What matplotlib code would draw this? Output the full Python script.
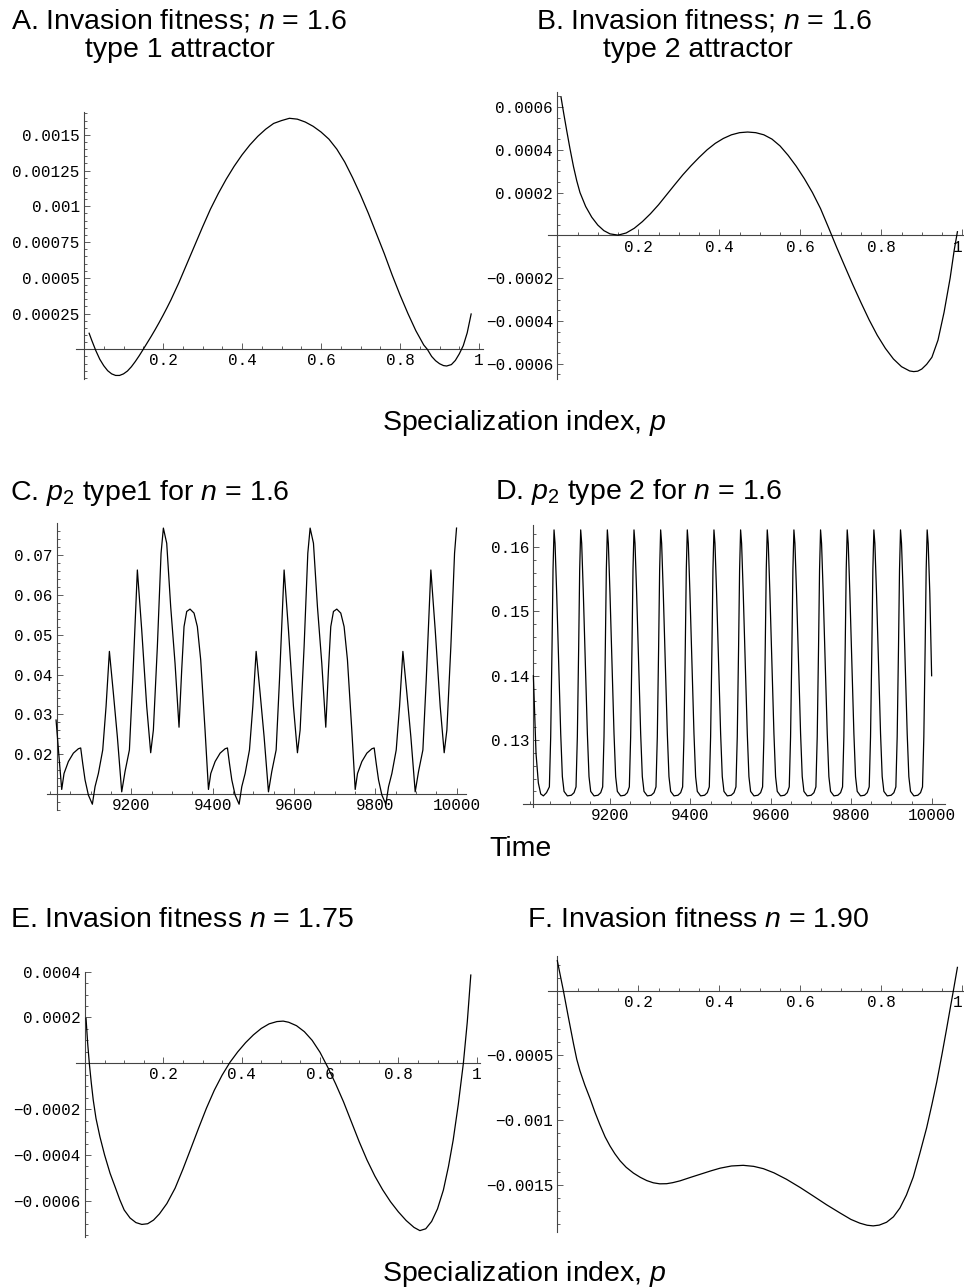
"""
plot.py
Six Mathematica-style panels: invasion fitness vs specialization index (A, B, E, F)
and p2 time series for the two attractors (C, D). Saves out.png (964x1287).
"""

import numpy as np
import matplotlib
matplotlib.use("Agg")
import matplotlib.pyplot as plt
from matplotlib.ticker import MultipleLocator

W, H = 964, 1287

plt.rcParams["font.family"] = ["Liberation Sans", "DejaVu Sans"]
plt.rcParams["mathtext.fontset"] = "custom"
plt.rcParams["mathtext.rm"] = "Liberation Sans"
plt.rcParams["mathtext.it"] = "Liberation Sans:italic"

# ── A. invasion fitness, n = 1.6, type 1 attractor ──────────────────────────
A_p = [0.013, 0.02, 0.03, 0.04, 0.05, 0.06, 0.07, 0.08, 0.09, 0.10,
       0.11, 0.12, 0.13, 0.14, 0.15, 0.16, 0.17, 0.18, 0.19, 0.20, 0.21, 0.22,
       0.24, 0.26, 0.28, 0.30, 0.32, 0.34, 0.36, 0.38, 0.40, 0.42,
       0.44, 0.46, 0.48, 0.50, 0.52, 0.54, 0.56, 0.58, 0.60,
       0.62, 0.64, 0.66, 0.68, 0.70, 0.72, 0.74, 0.76, 0.78, 0.80, 0.82, 0.84,
       0.86, 0.869, 0.88, 0.89, 0.90, 0.91, 0.918, 0.93, 0.94, 0.95, 0.96,
       0.97, 0.98]
A_w = [0.000112, 0.00006, -0.00001, -0.00007, -0.000115, -0.00015, -0.000172,
       -0.000183, -0.000183, -0.000172,
       -0.000152, -0.000122, -0.000085, -0.000044, 0.0, 0.000045, 0.00009,
       0.000137, 0.000186, 0.000237, 0.00029, 0.000345,
       0.000465, 0.000595, 0.000725, 0.000855, 0.00098, 0.00109, 0.00119,
       0.00128, 0.00136, 0.00143,
       0.00149, 0.00154, 0.00158, 0.00160, 0.001616, 0.00161, 0.00159, 0.00156,
       0.00152,
       0.00147, 0.00140, 0.00131, 0.00120, 0.00108, 0.00095, 0.00081, 0.00067,
       0.00052, 0.00038, 0.00025, 0.00013,
       0.00003, 0.0, -0.00005, -0.00008, -0.000101, -0.000114, -0.000117,
       -0.000107, -0.000078, -0.000032, 0.000025, 0.000115, 0.000247]

# ── B. invasion fitness, n = 1.6, type 2 attractor ──────────────────────────
B_p = [0.009, 0.016, 0.023, 0.031, 0.04, 0.048, 0.056, 0.07, 0.085, 0.10,
       0.115, 0.13,
       0.15, 0.17, 0.19, 0.21, 0.23, 0.25, 0.27, 0.29, 0.31, 0.33, 0.35, 0.37,
       0.39, 0.41, 0.43, 0.45, 0.47, 0.49, 0.51, 0.53, 0.55, 0.57, 0.59, 0.61,
       0.63, 0.65, 0.67, 0.69, 0.71, 0.73, 0.75, 0.77, 0.79, 0.81, 0.83, 0.85,
       0.87,
       0.88, 0.89, 0.90, 0.912, 0.925, 0.94, 0.955, 0.97, 0.98, 0.988]
B_w = [0.000648, 0.000568, 0.000492, 0.000408, 0.000321, 0.000255, 0.0002,
       0.000135, 0.000085, 0.000048, 0.000022, 0.000007,
       0.000001, 0.000011, 0.000033, 0.000064, 0.000101, 0.000143, 0.00019,
       0.000237, 0.000283, 0.000325, 0.000364, 0.0004, 0.00043, 0.000453,
       0.00047, 0.00048, 0.000483, 0.00048, 0.00047, 0.00045, 0.000418,
       0.000374, 0.000323, 0.000265, 0.0002, 0.000125, 0.000035, -0.000057,
       -0.000145, -0.000232, -0.000315, -0.000395, -0.000467, -0.000528,
       -0.000578, -0.000614, -0.000634,
       -0.000637, -0.000635, -0.000625, -0.000603, -0.00057, -0.00049,
       -0.00036, -0.0002, -0.00007, 0.000017]

# ── C. p2 time series, type 1 attractor ─────────────────────────────────────
C_t = [9014.8, 9021.3,
       9028.7, 9034.4, 9045.1, 9057.4, 9069.7, 9075.4, 9080.4, 9086.1, 9094.3,
       9104.1, 9110.7, 9118.9, 9129.6, 9137.8, 9146.0, 9155.8, 9165.6, 9176.3,
       9184.5, 9195.2, 9203.4, 9214.8, 9225.5, 9237.8, 9247.6, 9254.2, 9264.0,
       9273.1, 9278.8, 9287.0, 9296.8, 9307.5, 9317.3, 9323.9, 9329.6, 9336.2,
       9344.4, 9354.2, 9362.4, 9370.6, 9381.3,
       9389.7, 9395.4, 9406.1, 9418.4, 9430.7, 9436.4, 9441.4, 9447.1, 9455.3,
       9465.1, 9471.7, 9479.9, 9490.6, 9498.8, 9507.0, 9516.8, 9526.6, 9537.3,
       9545.5, 9556.2, 9564.4, 9575.8, 9586.5, 9598.8, 9608.6, 9615.2, 9625.0,
       9634.1, 9639.8, 9648.0, 9657.8, 9668.5, 9678.3, 9684.9, 9690.6, 9697.2,
       9705.4, 9715.2, 9723.4, 9731.6, 9742.3,
       9750.7, 9756.4, 9767.1, 9779.4, 9791.7, 9797.4, 9802.4, 9808.1, 9816.3,
       9826.1, 9832.7, 9840.9, 9851.6, 9859.8, 9868.0, 9877.8, 9887.6, 9898.3,
       9906.5, 9917.2, 9925.4, 9936.8, 9947.5, 9959.8, 9969.6, 9976.2, 9986.0,
       9995.1, 10000.0]
C_p2 = [0.0286, 0.0203,
        0.0112, 0.0152, 0.0182, 0.0203, 0.0214, 0.0216, 0.0177, 0.0136, 0.0098,
        0.0075, 0.0119, 0.0152, 0.0211, 0.0320, 0.0458, 0.0353, 0.0244, 0.0106,
        0.0157, 0.0211, 0.0386, 0.0662, 0.0512, 0.0320, 0.0204, 0.0261, 0.0470,
        0.0704, 0.0767, 0.0729, 0.0570, 0.0428, 0.0268, 0.0412, 0.0520, 0.0558,
        0.0564, 0.0554, 0.0520, 0.0437, 0.0261,
        0.0112, 0.0152, 0.0182, 0.0203, 0.0214, 0.0216, 0.0177, 0.0136, 0.0098,
        0.0075, 0.0119, 0.0152, 0.0211, 0.0320, 0.0458, 0.0353, 0.0244, 0.0106,
        0.0157, 0.0211, 0.0386, 0.0662, 0.0512, 0.0320, 0.0204, 0.0261, 0.0470,
        0.0704, 0.0767, 0.0729, 0.0570, 0.0428, 0.0268, 0.0412, 0.0520, 0.0558,
        0.0564, 0.0554, 0.0520, 0.0437, 0.0261,
        0.0112, 0.0152, 0.0182, 0.0203, 0.0214, 0.0216, 0.0177, 0.0136, 0.0098,
        0.0075, 0.0119, 0.0152, 0.0211, 0.0320, 0.0458, 0.0353, 0.0244, 0.0106,
        0.0157, 0.0211, 0.0386, 0.0662, 0.0512, 0.0320, 0.0204, 0.0261, 0.0470,
        0.0704, 0.0767]

# ── D. p2 time series, type 2 attractor (one row per oscillation) ──────────
D_t_rows = [
    [9009.3, 9015.9, 9021.7, 9027.6, 9034.2, 9042.0],
    [9049.1, 9052.4, 9055.7, 9058.2, 9060.7, 9063.2, 9067.3, 9072.3, 9077.3, 9081.4, 9085.6, 9093.9, 9103.8, 9110.5],
    [9115.4, 9118.7, 9122.0, 9124.5, 9127.0, 9129.5, 9133.6, 9138.6, 9143.6, 9147.7, 9151.9, 9160.2, 9170.1, 9176.8],
    [9181.7, 9185.0, 9188.3, 9190.8, 9193.3, 9195.8, 9199.9, 9204.9, 9209.9, 9214.0, 9218.2, 9226.5, 9236.4, 9243.1],
    [9248.0, 9251.3, 9254.6, 9257.1, 9259.6, 9262.1, 9266.2, 9271.2, 9276.2, 9280.3, 9284.5, 9292.8, 9302.7, 9309.4],
    [9314.3, 9317.6, 9320.9, 9323.4, 9325.9, 9328.4, 9332.5, 9337.5, 9342.5, 9346.6, 9350.8, 9359.1, 9369.0, 9375.7],
    [9380.6, 9383.9, 9387.2, 9389.7, 9392.2, 9394.7, 9398.8, 9403.8, 9408.8, 9412.9, 9417.1, 9425.4, 9435.3, 9442.0],
    [9446.9, 9450.2, 9453.5, 9456.0, 9458.5, 9461.0, 9465.1, 9470.1, 9475.1, 9479.2, 9483.4, 9491.7, 9501.6, 9508.3],
    [9513.2, 9516.5, 9519.8, 9522.3, 9524.8, 9527.3, 9531.4, 9536.4, 9541.4, 9545.5, 9549.7, 9558.0, 9567.9, 9574.6],
    [9579.5, 9582.8, 9586.1, 9588.6, 9591.1, 9593.6, 9597.7, 9602.7, 9607.7, 9611.8, 9616.0, 9624.3, 9634.2, 9640.9],
    [9645.8, 9649.1, 9652.4, 9654.9, 9657.4, 9659.9, 9664.0, 9669.0, 9674.0, 9678.1, 9682.3, 9690.6, 9700.5, 9707.2],
    [9712.1, 9715.4, 9718.7, 9721.2, 9723.7, 9726.2, 9730.3, 9735.3, 9740.3, 9744.4, 9748.6, 9756.9, 9766.8, 9773.5],
    [9778.4, 9781.7, 9785.0, 9787.5, 9790.0, 9792.5, 9796.6, 9801.6, 9806.6, 9810.7, 9814.9, 9823.2, 9833.1, 9839.8],
    [9844.7, 9848.0, 9851.3, 9853.8, 9856.3, 9858.8, 9862.9, 9867.9, 9872.9, 9877.0, 9881.2, 9889.5, 9899.4, 9906.1],
    [9911.0, 9914.3, 9917.6, 9920.1, 9922.6, 9925.1, 9929.2, 9934.2, 9939.2, 9943.3, 9947.5, 9955.8, 9965.7, 9972.4],
    [9977.3, 9980.6, 9983.9, 9986.4, 9988.9, 9991.4, 9995.5, 10000.0],
]
D_p2_rows = [
    [0.1400, 0.1279, 0.1233, 0.1216, 0.1213, 0.1218],
    [0.1227, 0.1305, 0.1445, 0.1565, 0.1627, 0.1606, 0.1528, 0.1419, 0.1310, 0.1243, 0.1220, 0.1213, 0.1214, 0.1218],
    [0.1227, 0.1305, 0.1445, 0.1565, 0.1627, 0.1606, 0.1528, 0.1419, 0.1310, 0.1243, 0.1220, 0.1213, 0.1214, 0.1218],
    [0.1227, 0.1305, 0.1445, 0.1565, 0.1627, 0.1606, 0.1528, 0.1419, 0.1310, 0.1243, 0.1220, 0.1213, 0.1214, 0.1218],
    [0.1227, 0.1305, 0.1445, 0.1565, 0.1627, 0.1606, 0.1528, 0.1419, 0.1310, 0.1243, 0.1220, 0.1213, 0.1214, 0.1218],
    [0.1227, 0.1305, 0.1445, 0.1565, 0.1627, 0.1606, 0.1528, 0.1419, 0.1310, 0.1243, 0.1220, 0.1213, 0.1214, 0.1218],
    [0.1227, 0.1305, 0.1445, 0.1565, 0.1627, 0.1606, 0.1528, 0.1419, 0.1310, 0.1243, 0.1220, 0.1213, 0.1214, 0.1218],
    [0.1227, 0.1305, 0.1445, 0.1565, 0.1627, 0.1606, 0.1528, 0.1419, 0.1310, 0.1243, 0.1220, 0.1213, 0.1214, 0.1218],
    [0.1227, 0.1305, 0.1445, 0.1565, 0.1627, 0.1606, 0.1528, 0.1419, 0.1310, 0.1243, 0.1220, 0.1213, 0.1214, 0.1218],
    [0.1227, 0.1305, 0.1445, 0.1565, 0.1627, 0.1606, 0.1528, 0.1419, 0.1310, 0.1243, 0.1220, 0.1213, 0.1214, 0.1218],
    [0.1227, 0.1305, 0.1445, 0.1565, 0.1627, 0.1606, 0.1528, 0.1419, 0.1310, 0.1243, 0.1220, 0.1213, 0.1214, 0.1218],
    [0.1227, 0.1305, 0.1445, 0.1565, 0.1627, 0.1606, 0.1528, 0.1419, 0.1310, 0.1243, 0.1220, 0.1213, 0.1214, 0.1218],
    [0.1227, 0.1305, 0.1445, 0.1565, 0.1627, 0.1606, 0.1528, 0.1419, 0.1310, 0.1243, 0.1220, 0.1213, 0.1214, 0.1218],
    [0.1227, 0.1305, 0.1445, 0.1565, 0.1627, 0.1606, 0.1528, 0.1419, 0.1310, 0.1243, 0.1220, 0.1213, 0.1214, 0.1218],
    [0.1227, 0.1305, 0.1445, 0.1565, 0.1627, 0.1606, 0.1528, 0.1419, 0.1310, 0.1243, 0.1220, 0.1213, 0.1214, 0.1218],
    [0.1227, 0.1305, 0.1445, 0.1565, 0.1627, 0.1606, 0.1528, 0.1400],
]
D_t = np.concatenate(D_t_rows)
D_p2 = np.concatenate(D_p2_rows)

# ── E. invasion fitness, n = 1.75 ───────────────────────────────────────────
E_p = [0.0026, 0.0068, 0.011, 0.016, 0.021, 0.028, 0.038, 0.05, 0.064, 0.077,
       0.089, 0.10, 0.115, 0.13, 0.145, 0.16, 0.175, 0.19, 0.209, 0.23,
       0.25, 0.27, 0.29, 0.31, 0.33, 0.35, 0.37, 0.39, 0.41, 0.43,
       0.45, 0.47, 0.49, 0.506, 0.52, 0.54, 0.56, 0.58, 0.60, 0.62,
       0.64, 0.66, 0.68, 0.70, 0.72, 0.74, 0.76, 0.78, 0.80, 0.82,
       0.84, 0.855, 0.87, 0.885, 0.90, 0.915, 0.928, 0.94, 0.953, 0.966,
       0.976, 0.985]
E_w = [0.000196, 0.000087, 0.0, -0.000085, -0.00016, -0.00024, -0.00032,
       -0.0004, -0.00048, -0.00054,
       -0.000596, -0.00064, -0.000675, -0.000695, -0.000703, -0.0007,
       -0.000684, -0.000657, -0.000612, -0.000545,
       -0.000462, -0.000373, -0.000283, -0.000196, -0.000118, -0.000052,
       0.000004, 0.00005, 0.00009, 0.000124,
       0.000152, 0.000172, 0.000182, 0.000184, 0.000179, 0.000164, 0.000138,
       0.0001, 0.000048, -0.000018,
       -0.00009, -0.000168, -0.000255, -0.000342, -0.000422, -0.000492,
       -0.000552, -0.000604, -0.000648, -0.000686,
       -0.000716, -0.00073, -0.000722, -0.00069, -0.000635, -0.000553,
       -0.00045, -0.000335, -0.00018, 0.0,
       0.00018, 0.000385]

# ── F. invasion fitness, n = 1.90 ───────────────────────────────────────────
F_p = [0.0, 0.008, 0.015, 0.027, 0.04, 0.048, 0.056, 0.068, 0.081, 0.093,
       0.105, 0.118, 0.13, 0.142, 0.155, 0.17, 0.188, 0.205, 0.221, 0.237,
       0.253, 0.27, 0.285, 0.303, 0.33, 0.352, 0.38, 0.402, 0.43, 0.459,
       0.485, 0.509, 0.535, 0.566, 0.60, 0.632, 0.665, 0.698, 0.725, 0.747,
       0.765, 0.78, 0.795, 0.813, 0.83, 0.846, 0.862, 0.879, 0.895, 0.912,
       0.925, 0.937, 0.95, 0.961, 0.97, 0.978, 0.988]
F_w = [0.000232, 0.000108, 0.0, -0.0002, -0.00041, -0.00053, -0.00062,
       -0.00073, -0.000835, -0.00094,
       -0.001035, -0.00113, -0.0012, -0.00126, -0.001315, -0.001365, -0.00141,
       -0.001443, -0.001468, -0.001485,
       -0.001493, -0.001492, -0.001484, -0.00147, -0.001442, -0.00142,
       -0.001392, -0.001372, -0.001355, -0.00135,
       -0.001358, -0.001376, -0.001408, -0.001458, -0.001522, -0.001587,
       -0.001655, -0.001718, -0.001768, -0.001797,
       -0.001813, -0.001818, -0.001812, -0.00179, -0.001748, -0.00168,
       -0.00158, -0.00144, -0.00126, -0.00106,
       -0.00088, -0.000705, -0.00049, -0.0003, -0.00014, 0.0, 0.00018]

# ── tick values / labels (Mathematica style, no label at the origin) ────────
P_TICKS = [0.2, 0.4, 0.6, 0.8, 1.0]
P_LABELS = ["0.2", "0.4", "0.6", "0.8", "1"]
T_TICKS = [9200, 9400, 9600, 9800, 10000]
T_LABELS = ["9200", "9400", "9600", "9800", "10000"]

A_yticks = [0.00025, 0.0005, 0.00075, 0.001, 0.00125, 0.0015]
A_ylabels = ["0.00025", "0.0005", "0.00075", "0.001", "0.00125", "0.0015"]
B_yticks = [-0.0006, -0.0004, -0.0002, 0.0002, 0.0004, 0.0006]
B_ylabels = ["\u22120.0006", "\u22120.0004", "\u22120.0002", "0.0002", "0.0004", "0.0006"]
C_yticks = [0.02, 0.03, 0.04, 0.05, 0.06, 0.07]
C_ylabels = ["0.02", "0.03", "0.04", "0.05", "0.06", "0.07"]
D_yticks = [0.13, 0.14, 0.15, 0.16]
D_ylabels = ["0.13", "0.14", "0.15", "0.16"]
E_yticks = [-0.0006, -0.0004, -0.0002, 0.0002, 0.0004]
E_ylabels = ["\u22120.0006", "\u22120.0004", "\u22120.0002", "0.0002", "0.0004"]
F_yticks = [-0.0015, -0.001, -0.0005]
F_ylabels = ["\u22120.0015", "\u22120.001", "\u22120.0005"]

TITLE_SIZE = 20.5
TICK_FONT = "Liberation Mono"
TICK_SIZE = 11.5
AXIS_COLOR = "#444444"


def px_box(left, top, right, bottom):
    """Pixel rectangle (from top-left) -> figure fraction [l, b, w, h]."""
    return [left / W, 1 - bottom / H, (right - left) / W, (bottom - top) / H]


def panel(fig, box, x, y, xlim, ylim, origin, xticks, xlabels,
          yticks, ylabels, xminor, yminor, pull_last=False):
    ax = fig.add_axes(px_box(*box))
    ax.patch.set_visible(False)
    ax.plot(x, y, color="black", lw=0.9, clip_on=False, zorder=3)
    ax.set_xlim(*xlim)
    ax.set_ylim(*ylim)

    for s in ("top", "right"):
        ax.spines[s].set_visible(False)
    ax.spines["left"].set_position(("data", origin[0]))
    ax.spines["bottom"].set_position(("data", origin[1]))
    for s in ("left", "bottom"):
        ax.spines[s].set_linewidth(0.8)
        ax.spines[s].set_color(AXIS_COLOR)

    ax.set_xticks(xticks, xlabels)
    ax.set_yticks(yticks, ylabels)
    ax.xaxis.set_minor_locator(MultipleLocator(xminor))
    ax.yaxis.set_minor_locator(MultipleLocator(yminor))
    ax.tick_params(which="both", direction="in", color=AXIS_COLOR, width=0.6,
                   labelsize=TICK_SIZE, labelcolor="black")
    ax.tick_params(which="major", length=4)
    ax.tick_params(which="minor", length=2)
    ax.tick_params(axis="x", pad=3)
    ax.tick_params(axis="y", pad=3)
    for lab in ax.get_xticklabels() + ax.get_yticklabels():
        lab.set_fontfamily(TICK_FONT)
    if pull_last:                       # "1" sits on the figure edge
        ax.get_xticklabels()[-1].set_horizontalalignment("right")
    return ax


def text(fig, x, y, s, ha="left", size=TITLE_SIZE):
    fig.text(x / W, 1 - y / H, s, ha=ha, va="baseline", fontsize=size)


def main():
    fig = plt.figure(figsize=(W / 100, H / 100), dpi=100)

    panel(fig, (76.1, 112.0, 483.0, 379.3), A_p, A_w,
          (-0.02, 1.01), (-0.00021, 0.00166), (0, 0),
          P_TICKS, P_LABELS, A_yticks, A_ylabels, 0.05, 0.00005)
    panel(fig, (548.4, 91.6, 963.9, 379.3), B_p, B_w,
          (-0.022, 1.004), (-0.000673, 0.000672), (0, 0),
          P_TICKS, P_LABELS, B_yticks, B_ylabels, 0.05, 0.00005,
          pull_last=True)
    panel(fig, (47.2, 523.3, 466.3, 810.2), C_t, C_p2,
          (8993, 10024), (0.006, 0.0779), (9016, 0.01),
          T_TICKS, T_LABELS, C_yticks, C_ylabels, 50, 0.002)
    panel(fig, (523.2, 525.4, 944.9, 806.8), D_t, D_p2,
          (8984, 10033), (0.1196, 0.1634), (9009, 0.12),
          T_TICKS, T_LABELS, D_yticks, D_ylabels, 50, 0.002)
    panel(fig, (76.0, 971.6, 480.2, 1236.8), E_p, E_w,
          (-0.023, 1.009), (-0.000757, 0.0004), (0, 0),
          P_TICKS, P_LABELS, E_yticks, E_ylabels, 0.05, 0.00005)
    panel(fig, (548.4, 956.0, 963.9, 1231.7), F_p, F_w,
          (-0.022, 1.004), (-0.001863, 0.000268), (0, 0),
          P_TICKS, P_LABELS, F_yticks, F_ylabels, 0.05, 0.0001,
          pull_last=True)

    # panel titles
    text(fig, 11, 29, "A. Invasion fitness; $n$ = 1.6")
    text(fig, 180, 57, "type 1 attractor", ha="center")
    text(fig, 536, 29, "B. Invasion fitness; $n$ = 1.6")
    text(fig, 698, 57, "type 2 attractor", ha="center")
    text(fig, 10, 500, "C. $p_2$ type1 for $n$ = 1.6")
    text(fig, 495, 499, "D. $p_2$ type 2 for $n$ = 1.6")
    text(fig, 10, 927, "E. Invasion fitness $n$ = 1.75")
    text(fig, 527, 927, "F. Invasion fitness $n$ = 1.90")

    # shared axis labels
    text(fig, 524, 430, "Specialization index, $p$", ha="center")
    text(fig, 520, 856, "Time", ha="center")
    text(fig, 524, 1281, "Specialization index, $p$", ha="center")

    fig.savefig("out.png", dpi=100, facecolor="white")
    plt.close(fig)


if __name__ == "__main__":
    main()
